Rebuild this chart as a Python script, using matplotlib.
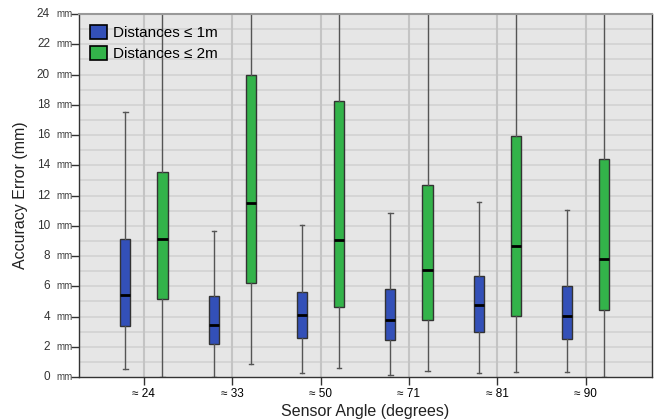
import matplotlib
matplotlib.use("Agg")
import matplotlib.pyplot as plt
import matplotlib.transforms as mtransforms
from matplotlib.patches import Patch
import numpy as np

plt.rcParams['font.family'] = ['Liberation Sans', 'DejaVu Sans']

# Sensor angle groups
angles = ["≈ 24", "≈ 33", "≈ 50", "≈ 71", "≈ 81", "≈ 90"]

# Distances <= 1m (blue)
near_lo = [0.55, 0.02, 0.26, 0.13, 0.29, 0.33]
near_q1 = [3.37, 2.18, 2.60, 2.42, 2.95, 2.53]
near_med = [5.42, 3.44, 4.10, 3.77, 4.74, 4.06]
near_q3 = [9.12, 5.38, 5.64, 5.82, 6.70, 6.02]
near_hi = [17.5, 9.67, 10.05, 10.86, 11.57, 11.04]

# Distances <= 2m (green)
far_lo = [0.02, 0.84, 0.60, 0.42, 0.35, 0.02]
far_q1 = [5.16, 6.21, 4.63, 3.75, 4.01, 4.45]
far_med = [9.10, 11.48, 9.06, 7.07, 8.68, 7.82]
far_q3 = [13.57, 19.95, 18.27, 12.72, 15.93, 14.39]
far_hi = [27.0, 27.0, 27.0, 27.0, 27.0, 27.0]

yticks = list(range(0, 25, 2))

BLUE = "#3350b8"
GREEN = "#33b34a"


def make_stats(lo, q1, med, q3, hi):
    return [dict(whislo=a, q1=b, med=c, q3=d, whishi=e, fliers=[])
            for a, b, c, d, e in zip(lo, q1, med, q3, hi)]


fig = plt.figure(figsize=(6.54, 4.19), dpi=100)
ax = fig.add_axes([0.1208, 0.1002, 0.876, 0.8663])
ax.set_facecolor("#e6e6e6")

x = np.arange(len(angles))
offset = 0.21
width = 0.115

common = dict(
    widths=width, patch_artist=True, showfliers=False,
    whiskerprops=dict(color="#555555", linewidth=1.0),
    capprops=dict(color="#555555", linewidth=1.0),
    medianprops=dict(color="black", linewidth=2.0),
    manage_ticks=False,
)
b1 = ax.bxp(make_stats(near_lo, near_q1, near_med, near_q3, near_hi),
            positions=x - offset, **common)
b2 = ax.bxp(make_stats(far_lo, far_q1, far_med, far_q3, far_hi),
            positions=x + offset, **common)
for box in b1["boxes"]:
    box.set_facecolor(BLUE)
    box.set_edgecolor("#333333")
    box.set_linewidth(1.0)
for box in b2["boxes"]:
    box.set_facecolor(GREEN)
    box.set_edgecolor("#333333")
    box.set_linewidth(1.0)
for cap in b1["caps"] + b2["caps"]:
    xd = cap.get_xdata()
    c = (xd[0] + xd[1]) / 2
    cap.set_xdata([c - 0.025, c + 0.025])

ax.set_xlim(-0.735, 5.75)
ax.set_ylim(0, 24)

# grid: horizontal every 1 mm, vertical at group ticks
for v in range(1, 24):
    ax.axhline(v, color="#d2d2d2", linewidth=1.2, zorder=0)
for xi in x:
    ax.axvline(xi, color="#c4c4c4", linewidth=1.5, zorder=0)

ax.set_xticks(x)
ax.set_xticklabels(angles, fontsize=8.5)
ax.set_yticks(yticks)
ax.set_yticklabels([])
ax.tick_params(axis="both", length=6, width=1, color="#333333", pad=2)

# y tick labels: number + small unit
trans = mtransforms.blended_transform_factory(fig.transFigure, ax.transData)
for v in yticks:
    ax.text(50 / 654, v, str(v), transform=trans, ha="right", va="center",
            fontsize=8.5, color="#333333")
    ax.text(56 / 654, v, "mm", transform=trans, ha="left", va="center",
            fontsize=7, color="#444444")

for side in ["left", "bottom", "right"]:
    ax.spines[side].set_color("#333333")
    ax.spines[side].set_linewidth(1.0)
ax.spines["top"].set_color("#999999")
ax.spines["top"].set_linewidth(1.5)

ax.set_xlabel("Sensor Angle (degrees)", fontsize=11.5, color="#222222", labelpad=3)
ax.set_ylabel("Accuracy Error (mm)", fontsize=11.5, color="#222222", labelpad=29)

handles = [Patch(facecolor=BLUE, edgecolor="black", linewidth=1.2, label="Distances ≤ 1m"),
           Patch(facecolor=GREEN, edgecolor="black", linewidth=1.2, label="Distances ≤ 2m")]
ax.legend(handles=handles, loc="upper left", frameon=False, fontsize=11,
          handlelength=1.1, handleheight=1.1, handletextpad=0.45,
          labelspacing=0.35, borderaxespad=0.3, bbox_to_anchor=(0.0, 1.0))

fig.savefig("out.png", dpi=100)
